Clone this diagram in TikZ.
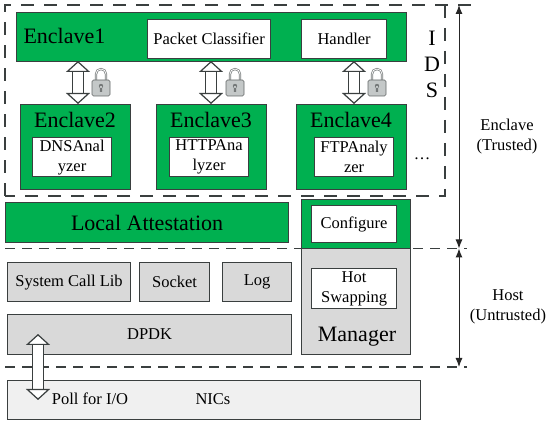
\documentclass[tikz,border=0pt]{standalone}
\usepackage{fontspec}
\setmainfont{Liberation Serif}
\usetikzlibrary{positioning,arrows.meta,calc}
\definecolor{SGXGreen}{HTML}{00B050}
\definecolor{HostGray}{HTML}{D9D9D9}
\definecolor{NicGray}{HTML}{F0F0F0}
\definecolor{LineGray}{HTML}{3A3F3F}
\definecolor{LockGray}{HTML}{C4C8C8}

\begin{document}
\begin{tikzpicture}[
  x=1pt, y=-1pt,
  greenbox/.style={draw=LineGray, fill=SGXGreen, line width=1.2pt, anchor=north west, inner sep=0pt},
  graybox/.style={draw=LineGray, fill=HostGray, line width=1.2pt, anchor=north west, inner sep=0pt, align=center, font=\fontsize{16.5}{18}\selectfont},
  whitebox/.style={draw=LineGray, fill=white, line width=1.2pt, anchor=north west, inner sep=0pt, align=center, font=\fontsize{16.5}{20}\selectfont},
  zonedash/.style={dash pattern=on 13pt off 10pt, line width=1.1pt, LineGray},
  hostdash/.style={dash pattern=on 10pt off 7pt, line width=1.4pt, LineGray},
  bigtext/.style={font=\fontsize{22}{24}\selectfont},
  sidetext/.style={align=center, font=\fontsize{16.5}{20}\selectfont},
  duplex/.style={double=white, double distance=10pt, line width=1.2pt, draw=LineGray, {Triangle[fill=white,length=11pt,width=24pt,line width=1.2pt]}-{Triangle[fill=white,length=11pt,width=24pt,line width=1.2pt]}},
  span/.style={{Latex[length=9pt,width=7pt]}-{Latex[length=9pt,width=7pt]}, line width=1pt, black!85},
  lockicon/.pic={
    \draw[LineGray!70, line width=2.2pt] (-5,1) -- (-5,-7) arc[start angle=180, end angle=0, x radius=5, y radius=-5] -- (5,1);
    \draw[white, line width=.8pt] (-5,1) -- (-5,-7) arc[start angle=180, end angle=0, x radius=5, y radius=-5] -- (5,1);
    \draw[LineGray!80, fill=LockGray, line width=.7pt, rounded corners=1.5pt] (-9,-1) rectangle (9,15);
    \fill[LineGray!70] (0,5) circle[radius=2.2] (-1.2,5) rectangle (1.2,11);
  }
]
\useasboundingbox (0,0) rectangle (550,425);

% IDS zone
\coordinate (idsnw) at (5,5);
\coordinate (idsne) at (445,5);
\coordinate (idsse) at (445,196);
\coordinate (idssw) at (5,196);
\coordinate (trustend) at (472,5);
\draw[zonedash] (idssw) -- (idsnw) -- (trustend);
\draw[zonedash] (idsne) -- (idsse) -- (idssw);

% enclaves
\node[greenbox, minimum width=390pt, minimum height=49pt] (enclaveone) at (16,12) {};
\node[bigtext, anchor=west] at (20,36) {Enclave1};
\node[whitebox, minimum width=123pt, minimum height=39pt] (classifier) at (147,19) {Packet Classifier};
\node[whitebox, minimum width=85pt, minimum height=39pt] (handler) at (301,19) {Handler};
\node[greenbox, minimum width=110pt, minimum height=85pt] (enclavetwo) at (20,104) {};
\node[greenbox, minimum width=110pt, minimum height=85pt] (enclavethree) at (156,104) {};
\node[greenbox, minimum width=110pt, minimum height=85pt] (enclavefour) at (296,104) {};
\node[bigtext] at (75,120) {Enclave2};
\node[bigtext] at (211,120) {Enclave3};
\node[bigtext] at (351,120) {Enclave4};
\node[whitebox, minimum width=79pt, minimum height=39pt] (dnsbox) at (32,137) {DNSAnal\\yzer};
\node[whitebox, minimum width=79pt, minimum height=39pt] (httpbox) at (169,137) {HTTPAna\\lyzer};
\node[whitebox, minimum width=79pt, minimum height=39pt] (ftpbox) at (314,137) {FTPAnaly\\zer};
\node[font=\fontsize{16.5}{16.5}\selectfont] (dots) at (422,159) {\dots};
\node[align=center, font=\fontsize{22}{26}\selectfont] (idslabel) at (432,64) {I\\D\\S};

% secure channels
\coordinate (chanone) at (78,61);
\coordinate (chantwo) at (211,61);
\coordinate (chanthree) at (354,61);
\draw[duplex] (chanone) -- (chanone |- enclavetwo.north);
\draw[duplex] (chantwo) -- (chantwo |- enclavethree.north);
\draw[duplex] (chanthree) -- (chanthree |- enclavefour.north);
\pic at (101,81) {lockicon};
\pic at (235,81) {lockicon};
\pic at (377,81) {lockicon};

% attestation and manager
\node[greenbox, bigtext, minimum width=283pt, minimum height=40pt] (attest) at (5,202) {Local Attestation};
\node[graybox, minimum width=109pt, minimum height=106pt] (manager) at (301,248) {};
\node[greenbox, minimum width=109pt, minimum height=49pt] (configouter) at (301,199) {};
\node[whitebox, minimum width=85pt, minimum height=37pt] (configure) at (311,205) {Configure};
\node[whitebox, minimum width=85pt, minimum height=40pt] (hotswap) at (311,268) {Hot\\Swapping};
\node[bigtext] at (357,337) {Manager};

% host
\node[graybox, minimum width=123pt, minimum height=39pt] (syslib) at (7,262) {System Call Lib};
\node[graybox, minimum width=70pt, minimum height=39pt] (socket) at (139,262) {Socket};
\node[graybox, minimum width=69pt, minimum height=39pt] (logbox) at (222,262) {Log};
\node[graybox, minimum width=284pt, minimum height=40pt] (dpdk) at (7,314) {DPDK};
\node[graybox, fill=NicGray, minimum width=413pt, minimum height=39pt] (nics) at (7,380) {};
\node[font=\fontsize{16.5}{18}\selectfont] at (213,399) {NICs};
\node[font=\fontsize{16.5}{18}\selectfont] at (90,399) {Poll for I/O};

% boundaries
\coordinate (trustw) at (5,248.5);
\coordinate (truste) at (467,248.5);
\coordinate (hostw) at (5,367);
\coordinate (hoste) at (467,367);
\draw[hostdash] (trustw) -- (truste);
\draw[hostdash] (hostw) -- (hoste);
\coordinate (polltop) at (38,334);
\coordinate (pollend) at (38,400);
\draw[duplex] (polltop) -- (pollend);

% side spans
\coordinate (spantop) at (459,5);
\coordinate (spanmid) at (459,248.5);
\coordinate (spanlow) at (459,367);
\draw[span] (spantop) -- (spanmid);
\draw[span] (spanmid) -- (spanlow);
\node[sidetext] (trusted) at (507,137) {Enclave\\(Trusted)};
\node[sidetext] (untrusted) at (508,307) {Host\\(Untrusted)};
\end{tikzpicture}
\end{document}
